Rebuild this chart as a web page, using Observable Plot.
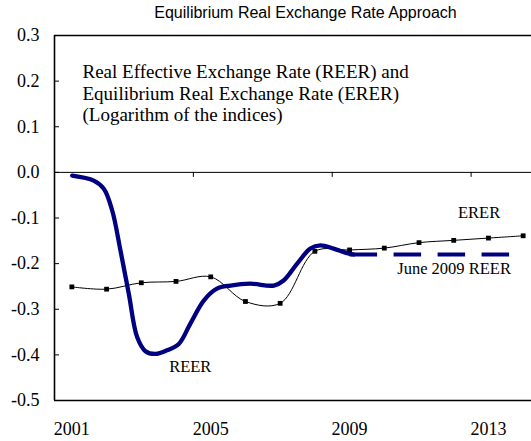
<!DOCTYPE html>
<html>
<head>
<meta charset="utf-8">
<script src="https://cdn.jsdelivr.net/npm/d3@7"></script>
<script src="https://cdn.jsdelivr.net/npm/@observablehq/plot@0.6"></script>
<style>
  body { margin: 0; background: #fff; }
  #title { width: 531px; box-sizing: border-box; padding-left: 80px; padding-top: 4px; height: 22px; line-height: 18px;
           text-align: center; font-family: "Liberation Sans", Arial, sans-serif; font-size: 16px; color: #000; }
  #chart svg { overflow: hidden; display: block; }
</style>
</head>
<body>
<div id="title">Equilibrium Real Exchange Rate Approach</div>
<div id="chart"></div>
<script>
// ERER: annual values (Logarithm of the index)
const years = [2001, 2002, 2003, 2004, 2005, 2006, 2007, 2008, 2009, 2010, 2011, 2012, 2013, 2014];
const erer  = [-0.251, -0.256, -0.242, -0.239, -0.229, -0.283, -0.287, -0.173, -0.170, -0.166, -0.154, -0.149, -0.144, -0.139];

// REER: smooth high-frequency path (fractional years)
const reerTime  = [2001.01, 2001.63, 2001.92, 2002.16, 2002.40, 2002.64, 2002.88, 2003.12, 2003.41, 2003.74, 2004.08, 2004.41, 2004.80, 2005.18, 2005.57, 2006.14, 2006.82, 2007.10, 2007.49, 2007.87, 2008.16, 2008.54, 2008.93, 2009.12];
const reerValue = [-0.007, -0.018, -0.036, -0.083, -0.171, -0.266, -0.361, -0.392, -0.398, -0.390, -0.376, -0.332, -0.281, -0.255, -0.248, -0.244, -0.248, -0.237, -0.200, -0.167, -0.160, -0.167, -0.177, -0.180];

// June 2009 REER level, held constant
const juneTime  = [2009.0, 2013.61];
const juneValue = [-0.18, -0.18];

// Axis ticks
const yTicks = [0.3, 0.2, 0.1, 0.0, -0.1, -0.2, -0.3, -0.4, -0.5];
const xLabelYears = [2001, 2005, 2009, 2013];
const xTickMarks = [2004.5, 2008.5, 2012.5];
const xDomain = [2000.5, 2014.24];
const yDomain = [-0.5, 0.3];

// Labels
const annotation = "Real Effective Exchange Rate (REER) and\nEquilibrium Real Exchange Rate (ERER)\n(Logarithm of the indices)";
const labelText  = ["ERER", "June 2009 REER", "REER"];
const labelTime  = [2012.73, 2012.01, 2004.41];
const labelValue = [-0.088, -0.211, -0.425];

const ererData = years.map((y, i) => ({x: y, v: erer[i]}));
const reerData = reerTime.map((t, i) => ({x: t, v: reerValue[i]}));
const juneData = juneTime.map((t, i) => ({x: t, v: juneValue[i]}));
const labels = labelText.map((t, i) => ({text: t, x: labelTime[i], v: labelValue[i]}));

const navy = "#000080";
const serif = "Liberation Serif";

const chart = Plot.plot({
  width: 531,
  height: 419,
  marginLeft: 54,
  marginRight: 0,
  marginTop: 13,
  marginBottom: 41,
  x: {domain: xDomain, axis: null},
  y: {domain: yDomain, axis: null},
  style: {fontFamily: serif, fontSize: "18px", color: "#000", background: "#fff"},
  marks: [
    // frame lines (left, top, bottom)
    Plot.ruleX([xDomain[0]], {stroke: "#000", strokeWidth: 1.6}),
    Plot.ruleY(yDomain, {stroke: "#000", strokeWidth: 1.3}),
    // zero line
    Plot.ruleY([0], {stroke: "#000", strokeWidth: 1}),
    // inward y ticks
    Plot.ruleY(yTicks, {x1: xDomain[0], x2: xDomain[0], insetRight: -5, stroke: "#000", strokeWidth: 1}),
    // x ticks hanging from the zero line
    Plot.ruleX(xTickMarks, {y1: 0, y2: 0, insetBottom: -5, stroke: "#000", strokeWidth: 1}),
    // y tick labels
    Plot.text(yTicks, {x: xDomain[0], y: d => d, text: d => d.toFixed(1), textAnchor: "end", dx: -15, fontSize: 18, fontFamily: serif, fill: "#000"}),
    // x tick labels
    Plot.text(xLabelYears, {x: d => d, frameAnchor: "bottom", text: d => String(d), lineAnchor: "top", dy: 22, fontSize: 18, fontFamily: serif, fill: "#000"}),
    // ERER
    Plot.line(ererData, {x: "x", y: "v", stroke: "#000", strokeWidth: 1, curve: "catmull-rom"}),
    Plot.dot(ererData, {x: "x", y: "v", symbol: "square", r: 2.7, fill: "#000", stroke: "none"}),
    // REER
    Plot.line(reerData, {x: "x", y: "v", stroke: navy, strokeWidth: 4.3, curve: "catmull-rom"}),
    Plot.line(juneData, {x: "x", y: "v", stroke: navy, strokeWidth: 4, strokeDasharray: "27.5,16.5", strokeLinecap: "butt"}),
    // annotations
    Plot.text([annotation], {frameAnchor: "top-left", dx: 28, dy: 27, textAnchor: "start", lineAnchor: "top", lineHeight: 1.14, fontSize: 19, fontFamily: serif, fill: "#000"}),
    Plot.text(labels, {x: "x", y: "v", text: "text", fontSize: 16.5, fontFamily: serif, fill: "#000"})
  ]
});
document.getElementById("chart").append(chart);
</script>
</body>
</html>
